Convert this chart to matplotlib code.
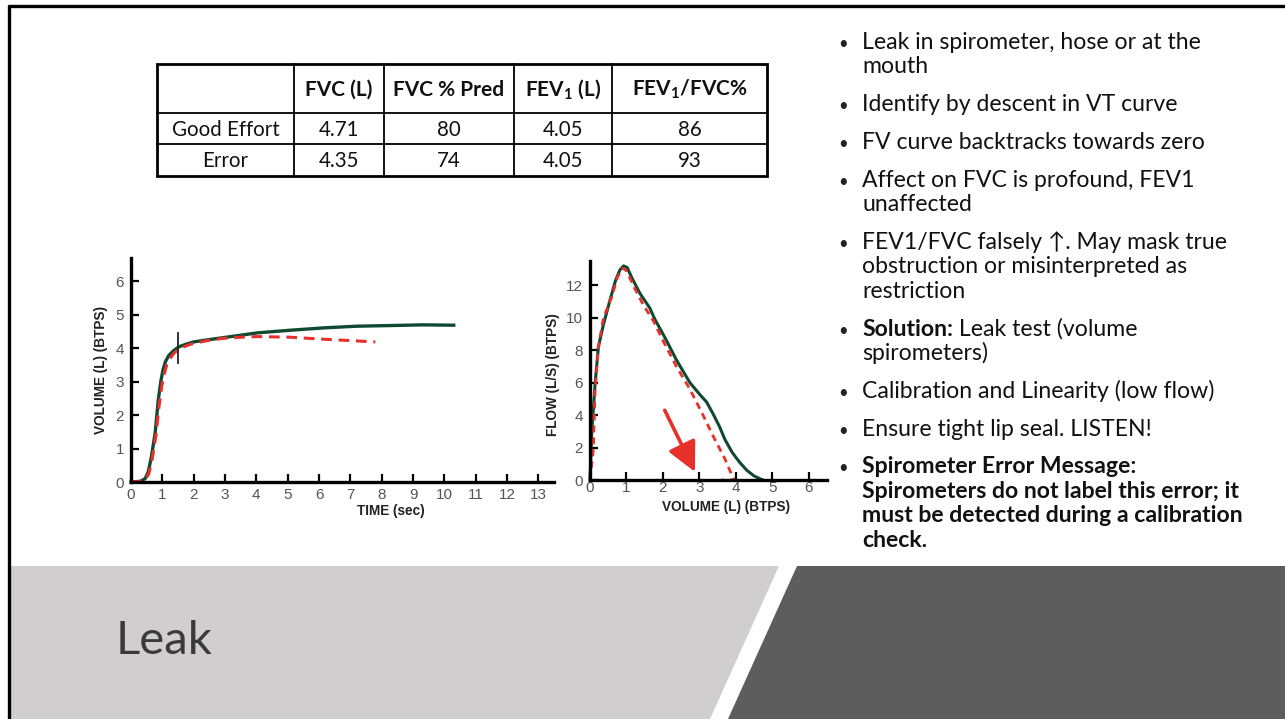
import matplotlib.pyplot as plt
from matplotlib.patches import Polygon

plt.rcParams.update({
    "font.family": ["Lato", "DejaVu Sans"],
    "mathtext.default": "regular",
})

W, H = 1285, 719

# table
col_headers = ["", "FVC (L)", "FVC % Pred", r"FEV$_1$ (L)", r"FEV$_1$/FVC%"]
row_labels = ["Good Effort", "Error"]
fvc = ["4.71", "4.35"]
fvc_pred = ["80", "74"]
fev1 = ["4.05", "4.05"]
fev1_fvc = ["86", "93"]

# volume-time curves (sec, L)
vt_good_t = [0.0, 0.3, 0.45, 0.55, 0.65, 0.77, 0.87, 0.95, 1.02, 1.1, 1.2, 1.35, 1.52, 1.75, 2.0, 2.5, 2.96, 3.5, 4.03, 5.09, 6.15, 7.2, 8.3, 9.3, 10.3]
vt_good_v = [0.0, 0.02, 0.1, 0.3, 0.75, 1.46, 2.45, 3.0, 3.35, 3.6, 3.78, 3.92, 4.04, 4.12, 4.19, 4.26, 4.32, 4.39, 4.46, 4.54, 4.61, 4.66, 4.68, 4.70, 4.69]
vt_leak_t = [0.0, 0.3, 0.47, 0.57, 0.67, 0.79, 0.9, 0.98, 1.05, 1.14, 1.25, 1.38, 1.52, 1.75, 2.0, 2.5, 2.96, 3.5, 4.03, 5.09, 6.15, 7.0, 7.8]
vt_leak_v = [0.0, 0.02, 0.08, 0.25, 0.65, 1.35, 2.3, 2.85, 3.2, 3.5, 3.7, 3.86, 3.97, 4.07, 4.15, 4.24, 4.30, 4.33, 4.35, 4.33, 4.27, 4.23, 4.19]
vt_marker_t = 1.5
vt_marker_v = (3.55, 4.45)

# flow-volume curves (L, L/s)
fv_good_v = [0.0, 0.05, 0.14, 0.23, 0.37, 0.55, 0.7, 0.82, 0.92, 1.02, 1.14, 1.37, 1.64, 1.78, 2.05, 2.37, 2.74, 3.0, 3.2, 3.37, 3.55, 3.7, 3.9, 4.1, 4.3, 4.5, 4.74]
fv_good_f = [0.0, 3.0, 5.95, 8.2, 9.6, 11.1, 12.3, 12.95, 13.2, 13.1, 12.5, 11.5, 10.6, 9.9, 8.8, 7.4, 6.0, 5.3, 4.8, 4.1, 3.3, 2.5, 1.7, 1.1, 0.6, 0.25, 0.0]
fv_leak_v = [0.0, 0.04, 0.09, 0.14, 0.23, 0.37, 0.6, 0.75, 0.9, 1.0, 1.23, 1.46, 1.74, 2.0, 2.37, 2.74, 3.1, 3.38, 3.7, 3.95, 3.6]
fv_leak_f = [0.0, 0.8, 1.85, 5.5, 8.2, 10.0, 11.3, 12.5, 13.05, 12.9, 11.8, 10.8, 9.8, 8.6, 7.0, 5.6, 4.0, 2.7, 1.3, 0.0, 0.0]
arrow_from = (2.05, 4.3)
arrow_to = (2.88, 0.5)

bullets = [
    [[("Leak in spirometer, hose or at the", "normal")], [("mouth", "normal")]],
    [[("Identify by descent in VT curve", "normal")]],
    [[("FV curve backtracks towards zero", "normal")]],
    [[("Affect on FVC is profound, FEV1", "normal")], [("unaffected", "normal")]],
    [[("FEV1/FVC falsely \u2191. May mask true", "normal")],
     [("obstruction or misinterpreted as", "normal")], [("restriction", "normal")]],
    [[("Solution:", "bold"), (" Leak test (volume", "normal")], [("spirometers)", "normal")]],
    [[("Calibration and Linearity (low flow)", "normal")]],
    [[("Ensure tight lip seal. LISTEN!", "normal")]],
    [[("Spirometer Error Message:", "bold")], [("Spirometers do not label this error; it", "bold")],
     [("must be detected during a calibration", "bold")], [("check.", "bold")]],
]
title = "Leak"

green = "#0f4a30"
red = "#e8302a"
tick_grey = "#555555"

fig = plt.figure(figsize=(W / 100, H / 100), dpi=100)
bg = fig.add_axes([0, 0, 1, 1])
bg.set_xlim(0, W)
bg.set_ylim(H, 0)
bg.axis("off")

# slide frame and bottom banner
bg.add_patch(Polygon([(10, 566), (779, 566), (710, H), (10, H)], color="#d0cecf", lw=0))
bg.add_patch(Polygon([(797, 566), (W, 566), (W, H), (728, H)], color="#5d5d5d", lw=0))
bg.plot([8, W], [6, 6], color="black", lw=2.4, solid_capstyle="butt")
bg.plot([9, 9], [5, H], color="black", lw=2.4, solid_capstyle="butt")
bg.text(116, 641, title, fontsize=34, fontweight="normal", color="#3a3a3a", va="center", ha="left")

# table
col_x = [157, 294, 384, 514, 612, 767]
row_y = [64, 113, 144, 176]
for x in col_x[1:-1]:
    bg.plot([x, x], [row_y[0], row_y[-1]], color="black", lw=1.3)
for y in row_y[1:-1]:
    bg.plot([col_x[0], col_x[-1]], [y, y], color="black", lw=1.3)
bg.add_patch(plt.Rectangle((col_x[0], row_y[0]), col_x[-1] - col_x[0], row_y[-1] - row_y[0],
                           fill=False, lw=2, ec="black"))
table_rows = [col_headers] + [list(r) for r in zip(row_labels, fvc, fvc_pred, fev1, fev1_fvc)]
for i, row in enumerate(table_rows):
    yc = (row_y[i] + row_y[i + 1]) / 2 + 1
    for j, cell in enumerate(row):
        xc = (col_x[j] + col_x[j + 1]) / 2
        bg.text(xc, yc, cell, ha="center", va="center",
                fontsize=15 if i == 0 else 14.8,
                fontweight="bold" if i == 0 else "normal", color="#111111")

# bullet list
y = 49
for item in bullets:
    bg.text(838, y, "\u2022", fontsize=12, va="baseline", ha="left", color="#222222")
    for line in item:
        prev = None
        for text, weight in line:
            if prev is None:
                prev = bg.text(862, y, text, fontsize=16.6, fontweight=weight,
                               va="baseline", ha="left", color="#111111")
            else:
                prev = bg.annotate(text, xy=(1, 0), xycoords=prev, fontsize=16.6,
                                   fontweight=weight, va="bottom", ha="left", color="#111111")
        y += 24.4
    y += 37.8 - 24.4


def px_axes(left, top, right, bottom):
    return fig.add_axes([left / W, 1 - bottom / H, (right - left) / W, (bottom - top) / H])


def style(ax, xpad):
    for side in ("top", "right"):
        ax.spines[side].set_visible(False)
    for side in ("left", "bottom"):
        ax.spines[side].set_linewidth(2.4)
    ax.tick_params(direction="in", length=6, width=1.6, colors="black", pad=5,
                   labelsize=11, labelcolor=tick_grey)
    ax.tick_params(axis="x", pad=xpad)
    for lab in ax.get_xticklabels() + ax.get_yticklabels():
        lab.set_fontfamily("Liberation Sans")
    ax.patch.set_alpha(0)


label_kw = dict(fontsize=9.8, fontweight="bold", fontfamily="Liberation Sans", color="#222222")

# volume-time
ax1 = px_axes(131, 258, 554, 482)
ax1.plot(vt_good_t, vt_good_v, color=green, lw=2.4, clip_on=False)
ax1.plot(vt_leak_t, vt_leak_v, color=red, lw=2.2, ls=(0, (3.5, 2.2)), clip_on=False)
ax1.plot([vt_marker_t, vt_marker_t], vt_marker_v, color="#222222", lw=1.3)
ax1.set_xlim(0, 13.5)
ax1.set_ylim(0, 6.7)
ax1.set_xticks(range(0, 14))
ax1.set_yticks(range(0, 7))
style(ax1, 4)
ax1.set_xlabel("TIME (sec)", **label_kw)
ax1.set_ylabel("VOLUME (L) (BTPS)", **label_kw)
ax1.xaxis.set_label_coords(0.615, -0.1)
ax1.yaxis.set_label_coords(-0.055, 0.5)

# flow-volume
ax2 = px_axes(590, 261, 827, 480)
ax2.plot(fv_good_v, fv_good_f, color=green, lw=2.2, clip_on=False)
ax2.plot(fv_leak_v, fv_leak_f, color=red, lw=2.0, ls=(0, (2.5, 1.8)), clip_on=False)
ax2.annotate("", xy=arrow_to, xytext=arrow_from,
             arrowprops=dict(arrowstyle="-|>,head_length=0.9,head_width=0.45",
                             mutation_scale=20, color=red, lw=2.6, shrinkA=0, shrinkB=0))
ax2.set_xlim(0, 6.5)
ax2.set_ylim(0, 13.5)
ax2.set_xticks(range(0, 7))
ax2.set_yticks(range(0, 13, 2))
style(ax2, 1)
ax2.set_xlabel("VOLUME (L) (BTPS)", **label_kw)
ax2.set_ylabel("FLOW (L/S) (BTPS)", **label_kw)
ax2.xaxis.set_label_coords(0.574, -0.09)
ax2.yaxis.set_label_coords(-0.125, 0.48)

fig.savefig("out.png", dpi=100)
